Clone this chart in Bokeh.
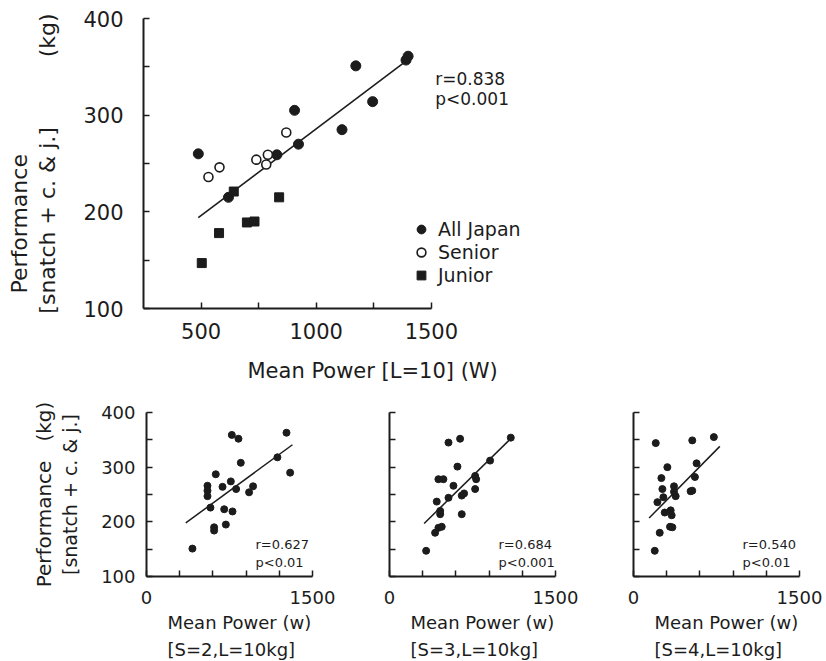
import math
from bokeh.plotting import figure
from bokeh.models import FixedTicker, Label, Legend, LegendItem, Title
from bokeh.layouts import column, row
from bokeh.embed import file_html
from bokeh.resources import INLINE

FONT = "DejaVu Sans"
INK = "#1c1c1c"
NB = "\u00a0"

# ---------------- main panel: Mean Power [L=10] ----------------
japan_x = [488, 619, 829, 906, 923, 1112, 1172, 1245, 1390, 1399]
japan_y = [260, 215, 259, 305, 270, 285, 351, 314, 357, 361]
senior_x = [532, 580, 740, 783, 790, 870]
senior_y = [236, 246, 254, 249, 259, 282]
junior_x = [503, 578, 642, 699, 732, 839]
junior_y = [147, 178, 221, 189, 190, 215]
main_fit_x = [488, 1390]
main_fit_y = [194, 356]
main_stats = ["r=0.838", "p<0.001"]
main_xticks = [500, 750, 1000, 1250, 1500]
main_xlabels = ["500", "", "1000", "", "1500"]
main_yticks = [100, 150, 200, 250, 300, 350, 400]
main_ylabels = ["100", "", "200", "", "300", "", "400"]

# ---------------- small panels: S=2, S=3, S=4 ----------------
s2_x = [415, 551, 551, 551, 578, 626, 611, 611, 687, 702, 717, 777, 762, 771, 831, 810, 852, 927, 963, 1183, 1265, 1298]
s2_y = [151, 266, 257, 247, 226, 287, 190, 184, 264, 223, 195, 219, 274, 359, 352, 260, 308, 254, 265, 318, 363, 290]
s2_fit_x = [355, 1319]
s2_fit_y = [198, 341]

s3_x = [331, 412, 442, 472, 458, 427, 458, 442, 487, 533, 578, 533, 638, 614, 653, 674, 653, 774, 774, 783, 909, 1096]
s3_y = [147, 180, 189, 191, 214, 237, 220, 278, 278, 244, 266, 345, 352, 301, 248, 252, 214, 260, 284, 278, 312, 354]
s3_fit_x = [313, 1105]
s3_fit_y = [197, 354]

s4_x = [192, 201, 216, 237, 252, 261, 270, 282, 306, 330, 351, 336, 345, 366, 381, 366, 516, 531, 531, 555, 570, 726]
s4_y = [147, 344, 236, 180, 280, 260, 245, 217, 300, 191, 190, 221, 212, 265, 247, 255, 256, 257, 349, 282, 307, 355]
s4_fit_x = [141, 780]
s4_fit_y = [207, 338]

small_stats = [["r=0.627", "p<0.01"], ["r=0.684", "p<0.001"], ["r=0.540", "p<0.01"]]
small_conditions = ["[S=2,L=10kg]", "[S=3,L=10kg]", "[S=4,L=10kg]"]
small_xticks = [0, 300, 600, 900, 1200, 1500]
small_xlabels = ["0", "", "", "", "", "1500"]
small_yticks = [100, 150, 200, 250, 300, 350, 400]
small_ylabels = ["100", "", "200", "", "300", "", "400"]


def style_axes(p, xticks, xlabels, yticks, ylabels, size, xstand, ystand, show_y=True):
    p.xgrid.visible = False
    p.ygrid.visible = False
    p.outline_line_color = None
    p.background_fill_color = "white"
    p.border_fill_color = "white"
    for ax, ticks, labels, stand in ((p.xaxis[0], xticks, xlabels, xstand),
                                     (p.yaxis[0], yticks, ylabels, ystand)):
        ax.ticker = FixedTicker(ticks=ticks)
        ax.major_label_overrides = {t: l for t, l in zip(ticks, labels)}
        ax.axis_line_width = 2
        ax.axis_line_color = INK
        ax.major_tick_line_color = INK
        ax.major_tick_line_width = 1.5
        ax.major_tick_in = 6
        ax.major_tick_out = 0
        ax.minor_tick_in = 0
        ax.minor_tick_out = 0
        ax.major_label_text_font = FONT
        ax.major_label_text_font_size = size
        ax.major_label_text_color = INK
        ax.major_label_standoff = stand
        ax.axis_label_text_font = FONT
        ax.axis_label_text_font_style = "normal"
        ax.axis_label_text_color = INK
    if not show_y:
        p.yaxis[0].major_label_overrides = {t: "" for t in yticks}


def add_label(p, x, y, text, size):
    p.add_layout(Label(x=x, y=y, text=text, text_font=FONT, text_font_size=size,
                       text_color=INK, text_align="left", text_baseline="middle"))


def add_title(p, text, side, size, align, offset, standoff):
    p.add_layout(Title(text=text, text_font=FONT, text_font_size=size,
                       text_font_style="normal", text_color=INK, align=align,
                       offset=offset, standoff=standoff, vertical_align="middle"), side)


main = figure(width=566, height=403, x_range=(250, 2000), y_range=(100, 400),
              output_backend="svg", toolbar_location=None,
              min_border_left=143, min_border_right=20,
              min_border_top=18, min_border_bottom=95)
style_axes(main, main_xticks, main_xlabels, main_yticks, main_ylabels, "21px", 14, 20)
main.xaxis[0].bounds = (250, 1500)
main.yaxis[0].axis_label = "[snatch + c. & j.]" + NB * 10 + "(kg)"
main.yaxis[0].axis_label_text_font_size = "22px"
main.yaxis[0].axis_label_standoff = 20

main.line(main_fit_x, main_fit_y, line_color=INK, line_width=1.6)
r_j = main.scatter(japan_x, japan_y, marker="circle", size=10, fill_color=INK, line_color=INK)
r_s = main.scatter(senior_x, senior_y, marker="circle", size=9, fill_color="white",
                   line_color=INK, line_width=1.6)
r_u = main.scatter(junior_x, junior_y, marker="square", size=9, fill_color=INK, line_color=INK)

legend = Legend(items=[LegendItem(label="All Japan", renderers=[r_j]),
                       LegendItem(label="Senior", renderers=[r_s]),
                       LegendItem(label="Junior", renderers=[r_u])],
                location=(267, 22), orientation="vertical", padding=0, margin=0,
                spacing=1, glyph_width=22, glyph_height=22, label_height=22,
                label_standoff=6, label_text_font=FONT, label_text_font_size="19px",
                label_text_color=INK, border_line_alpha=0, background_fill_alpha=0)
main.add_layout(legend)

add_label(main, 1517, 337, main_stats[0], "17px")
add_label(main, 1517, 317, main_stats[1], "17px")
add_title(main, "Performance", "left", "22px", "left", 15, 0)
add_title(main, "Mean Power [L=10] (W)", "below", "21px", "left", 104, 33)


def small_panel(xs, ys, fx, fy, stats, cond, width, left, right, show_y):
    p = figure(width=width, height=258, x_range=(0, 1500), y_range=(100, 400),
               output_backend="svg", toolbar_location=None,
               min_border_left=left, min_border_right=right,
               min_border_top=9, min_border_bottom=85)
    style_axes(p, small_xticks, small_xlabels, small_yticks, small_ylabels,
               "18px", 14, 11, show_y)
    p.line(fx, fy, line_color=INK, line_width=1.5)
    p.scatter(xs, ys, marker="circle", size=7, fill_color=INK, line_color=INK)
    add_label(p, 985, 158, stats[0], "13px")
    add_label(p, 985, 126, stats[1], "13px")
    if show_y:
        p.yaxis[0].axis_label = "[snatch + c. & j.]"
        p.yaxis[0].axis_label_text_font_size = "19px"
        p.yaxis[0].axis_label_standoff = 17
        add_title(p, "Performance" + NB * 3 + "(kg)", "left", "20px", "center", 0, 0)
    add_title(p, "Mean Power (w)", "below", "18px", "left", 21, 8)
    add_title(p, cond, "below", "18px", "left", 21, 0)
    return p


p1 = small_panel(s2_x, s2_y, s2_fit_x, s2_fit_y, small_stats[0], small_conditions[0], 352, 146, 40, True)
p2 = small_panel(s3_x, s3_y, s3_fit_x, s3_fit_y, small_stats[1], small_conditions[1], 243, 37, 40, False)
p3 = small_panel(s4_x, s4_y, s4_fit_x, s4_fit_y, small_stats[2], small_conditions[2], 231, 38, 27, False)

layout = column(main, row(p1, p2, p3))

with open("out.html", "w") as f:
    f.write(file_html(layout, INLINE))
